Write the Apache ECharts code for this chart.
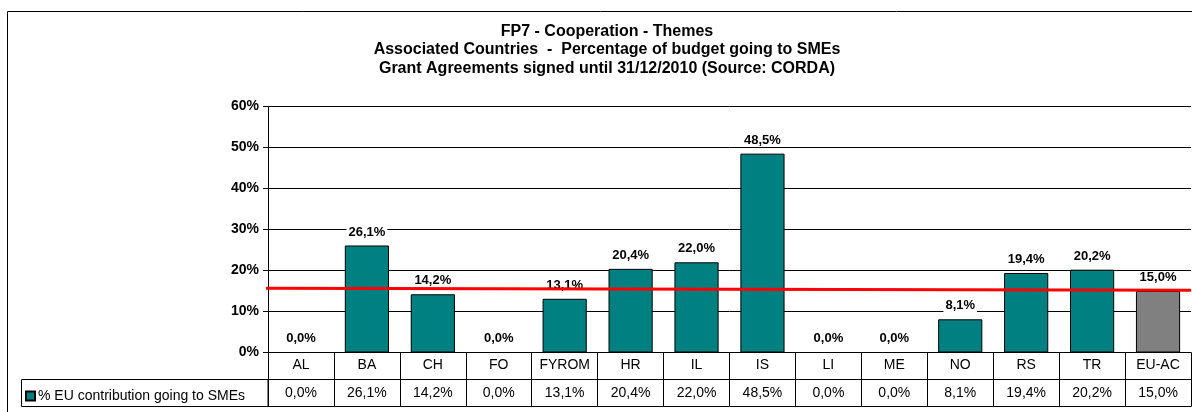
<!DOCTYPE html>
<html>
<head>
<meta charset="utf-8">
<script src="https://cdn.jsdelivr.net/npm/echarts@6/dist/echarts.min.js"></script>
<style>
  html, body { margin: 0; padding: 0; background: #fff; }
  #chart { width: 1192px; height: 412px; }
</style>
</head>
<body>
<div id="chart"></div>
<script>
// Countries (associated countries + EU-AC average)
const countries = ['AL', 'BA', 'CH', 'FO', 'FYROM', 'HR', 'IL', 'IS', 'LI', 'ME', 'NO', 'RS', 'TR', 'EU-AC'];
// % of EU contribution going to SMEs
const smeShare = [0.0, 26.1, 14.2, 0.0, 13.1, 20.4, 22.0, 48.5, 0.0, 0.0, 8.1, 19.4, 20.2, 15.0];
// Reference line across the plot (start and end level, %)
const targetLine = [15.7, 15.2];
// Y axis ticks
const yTicks = [0, 10, 20, 30, 40, 50, 60];
const seriesName = '% EU contribution going to SMEs';

const fmt = v => v.toFixed(1).replace('.', ',') + '%';

// plot area
const G = { left: 268, top: 106.5, bottom: 352.5, right: 1191 };
const ROW = 27;   // height of one data-table row
const FONT = 'Arial, "Liberation Sans", sans-serif';

const chart = echarts.init(document.getElementById('chart'), null, { renderer: 'canvas' });

const option = {
  backgroundColor: '#fff',
  animation: false,
  title: {
    text: 'FP7 - Cooperation - Themes\nAssociated Countries  -  Percentage of budget going to SMEs\nGrant Agreements signed until 31/12/2010 (Source: CORDA)',
    left: 602,
    top: 17,
    textAlign: 'center',
    textStyle: { fontFamily: FONT, fontSize: 16, fontWeight: 'bold', color: '#000', lineHeight: 18.7 }
  },
  legend: {
    left: 20, top: 384,
    icon: 'rect', itemWidth: 9, itemHeight: 9, itemGap: 0,
    data: [seriesName],
    textStyle: { fontFamily: FONT, fontSize: 14, color: '#000', padding: [0, 0, 0, -2] }
  },
  grid: { left: G.left, top: G.top, width: G.right - G.left, height: G.bottom - G.top, containLabel: false },
  xAxis: [
    {
      type: 'category', data: countries, position: 'bottom',
      axisLine: { show: true, lineStyle: { color: '#000', width: 1 } },
      axisTick: { show: true, length: ROW * 2, lineStyle: { color: '#000' } },
      axisLabel: { fontFamily: FONT, fontSize: 14, color: '#000', margin: 6 },
      splitLine: { show: false }
    },
    {
      type: 'category', data: smeShare.map(fmt), position: 'bottom', offset: ROW,
      axisLine: { show: true, lineStyle: { color: '#000', width: 1 } },
      axisTick: { show: false },
      axisLabel: { fontFamily: FONT, fontSize: 14, color: '#000', margin: 7 }
    },
    {
      type: 'category', data: countries, position: 'bottom', offset: ROW * 2,
      axisLine: { show: true, lineStyle: { color: '#000', width: 1 } },
      axisTick: { show: false }, axisLabel: { show: false }
    },
    { type: 'value', min: 0, max: 1, show: false }
  ],
  yAxis: {
    type: 'value', min: yTicks[0], max: yTicks[yTicks.length - 1], interval: 10,
    axisLine: { show: true, lineStyle: { color: '#000' } },
    axisTick: { show: true, inside: false, length: 5, lineStyle: { color: '#000' } },
    axisLabel: { fontFamily: FONT, fontSize: 14, fontWeight: 'bold', color: '#000', margin: 9, formatter: v => v + '%' },
    splitLine: { show: true, lineStyle: { color: '#000', width: 1 } }
  },
  series: [
    {
      name: seriesName,
      type: 'bar',
      xAxisIndex: 0,
      barCategoryGap: '33%',
      data: smeShare.map((v, i) => ({
        value: v,
        itemStyle: { color: countries[i] === 'EU-AC' ? '#808080' : '#008080' }
      })),
      itemStyle: { color: '#008080', borderColor: '#000', borderWidth: 1 },
      label: {
        show: true, position: 'top', distance: 7,
        fontFamily: FONT, fontSize: 13, fontWeight: 'bold', color: '#000',
        backgroundColor: '#fff', padding: [0, 2],
        formatter: p => fmt(p.value)
      },
      z: 3
    },
    {
      type: 'line',
      xAxisIndex: 3,
      data: [[-0.005, targetLine[0]], [1, targetLine[1]]],
      symbol: 'none',
      clip: false,
      lineStyle: { color: '#ff0000', width: 3 },
      silent: true,
      z: 5
    }
  ],
  graphic: [
    // chart frame
    { type: 'rect', shape: { x: 7.5, y: 11.5, width: 1220, height: 430 },
      style: { fill: null, stroke: '#000', lineWidth: 1 }, silent: true },
    // legend cell of the data table
    { type: 'rect', shape: { x: 21.5, y: G.bottom + ROW, width: G.left - 21.5, height: ROW },
      style: { fill: null, stroke: '#000', lineWidth: 1 }, silent: true }
  ]
};

chart.setOption(option);
</script>
</body>
</html>
